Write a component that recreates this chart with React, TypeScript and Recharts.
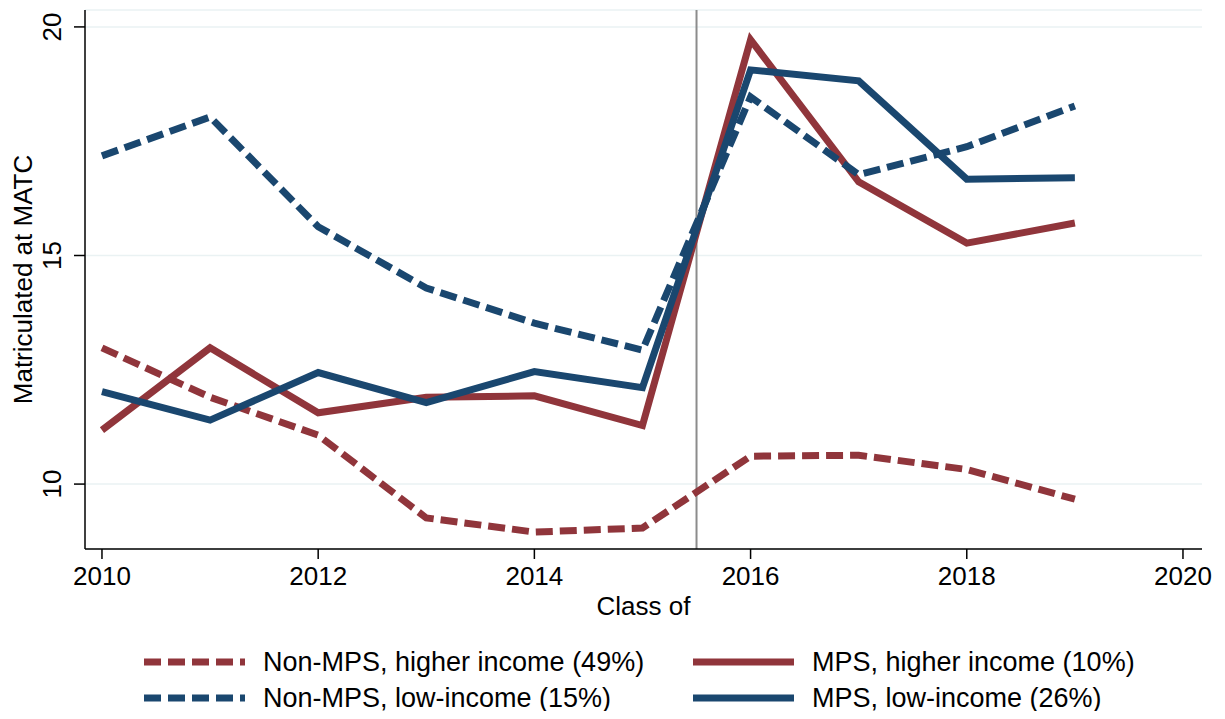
import { LineChart, Line, XAxis, YAxis, CartesianGrid, ReferenceLine, Legend, Label } from "recharts";

const years = [2010, 2011, 2012, 2013, 2014, 2015, 2016, 2017, 2018, 2019];
const nonMpsHigher = [12.98, 11.9, 11.07, 9.26, 8.95, 9.04, 10.61, 10.63, 10.32, 9.67];
const mpsHigher = [11.18, 12.98, 11.56, 11.9, 11.93, 11.28, 19.72, 16.61, 15.27, 15.71];
const nonMpsLow = [17.18, 18.03, 15.63, 14.29, 13.52, 12.93, 18.47, 16.77, 17.38, 18.27];
const mpsLow = [12.02, 11.4, 12.44, 11.78, 12.46, 12.11, 19.06, 18.82, 16.67, 16.7];

const xTicks = [2010, 2012, 2014, 2016, 2018, 2020];
const yTicks = [10, 15, 20];

const RED = "#90353b";
const BLUE = "#1a476f";
const FONT = "'Liberation Sans', Arial, sans-serif";
const DASH = "17 7";
const AXIS_FS = 26;

const series = [
  { key: "nonMpsHigher", name: "Non-MPS, higher income (49%)", color: RED, dashed: true },
  { key: "mpsHigher", name: "MPS, higher income (10%)", color: RED, dashed: false },
  { key: "nonMpsLow", name: "Non-MPS, low-income (15%)", color: BLUE, dashed: true },
  { key: "mpsLow", name: "MPS, low-income (26%)", color: BLUE, dashed: false },
];

const data = years.map((year, i) => ({
  year,
  nonMpsHigher: nonMpsHigher[i],
  mpsHigher: mpsHigher[i],
  nonMpsLow: nonMpsLow[i],
  mpsLow: mpsLow[i],
}));

function YTick(props: any) {
  const { x, y, payload } = props;
  const cx = x - 11;
  return (
    <text x={cx} y={y} transform={`rotate(-90, ${cx}, ${y})`} textAnchor="middle" fontSize={AXIS_FS} fontFamily={FONT} fill="#000">
      {payload.value}
    </text>
  );
}

function LegendBox() {
  const cols = [136, 685];
  const rows = [33, 69];
  return (
    <div style={{ position: "relative", width: "100%", height: 82, fontFamily: FONT, fontSize: 27, color: "#000" }}>
      {series.map((s, i) => {
        const left = cols[i % 2];
        const top = rows[Math.floor(i / 2)];
        return (
          <div key={s.key} style={{ position: "absolute", left, top: top - 15, height: 30, display: "flex", alignItems: "center", whiteSpace: "nowrap" }}>
            <svg width={101} height={10} style={{ display: "block" }}>
              <line x1={0} y1={5} x2={101} y2={5} stroke={s.color} strokeWidth={7} strokeDasharray={s.dashed ? DASH : undefined} />
            </svg>
            <span style={{ marginLeft: 18 }}>{s.name}</span>
          </div>
        );
      })}
    </div>
  );
}

export default function App() {
  return (
    <LineChart width={1209} height={703} data={data} margin={{ top: 2, right: 15, bottom: 0, left: 0 }}>
      <CartesianGrid horizontal={true} vertical={false} stroke="#eaf2f3" strokeWidth={1.5} />
      <XAxis
        dataKey="year"
        type="number"
        domain={[2009.843, 2020.176]}
        ticks={xTicks}
        height={80}
        tickSize={10}
        tickMargin={8}
        allowDataOverflow
        stroke="#000"
        strokeWidth={1.5}
        tick={{ fontSize: AXIS_FS, fontFamily: FONT, fill: "#000" }}
      >
        <Label
          content={(p: any) => {
            const vb = p.viewBox;
            return (
              <text x={vb.x + vb.width / 2} y={vb.y + 66} textAnchor="middle" fontSize={AXIS_FS} fontFamily={FONT} fill="#000">
                Class of
              </text>
            );
          }}
        />
      </XAxis>
      <YAxis
        type="number"
        domain={[8.58, 20.37]}
        ticks={yTicks}
        width={77}
        tickSize={11}
        allowDataOverflow
        stroke="#000"
        strokeWidth={1.5}
        tick={<YTick />}
      >
        <Label
          content={(p: any) => {
            const vb = p.viewBox;
            const cx = 24;
            const cy = vb.y + vb.height / 2;
            return (
              <text x={cx} y={cy} transform={`rotate(-90, ${cx}, ${cy})`} textAnchor="middle" fontSize={AXIS_FS} fontFamily={FONT} fill="#000">
                Matriculated at MATC
              </text>
            );
          }}
        />
      </YAxis>
      <ReferenceLine x={2015.5} stroke="#8c8c8c" strokeWidth={2} />
      {series.map((s) => (
        <Line
          key={s.key}
          dataKey={s.key}
          name={s.name}
          stroke={s.color}
          strokeWidth={7}
          strokeDasharray={s.dashed ? DASH : undefined}
          dot={false}
          activeDot={false}
          type="linear"
          isAnimationActive={false}
        />
      ))}
      <Legend verticalAlign="bottom" height={82} wrapperStyle={{ height: 82 }} content={() => <LegendBox />} />
    </LineChart>
  );
}
